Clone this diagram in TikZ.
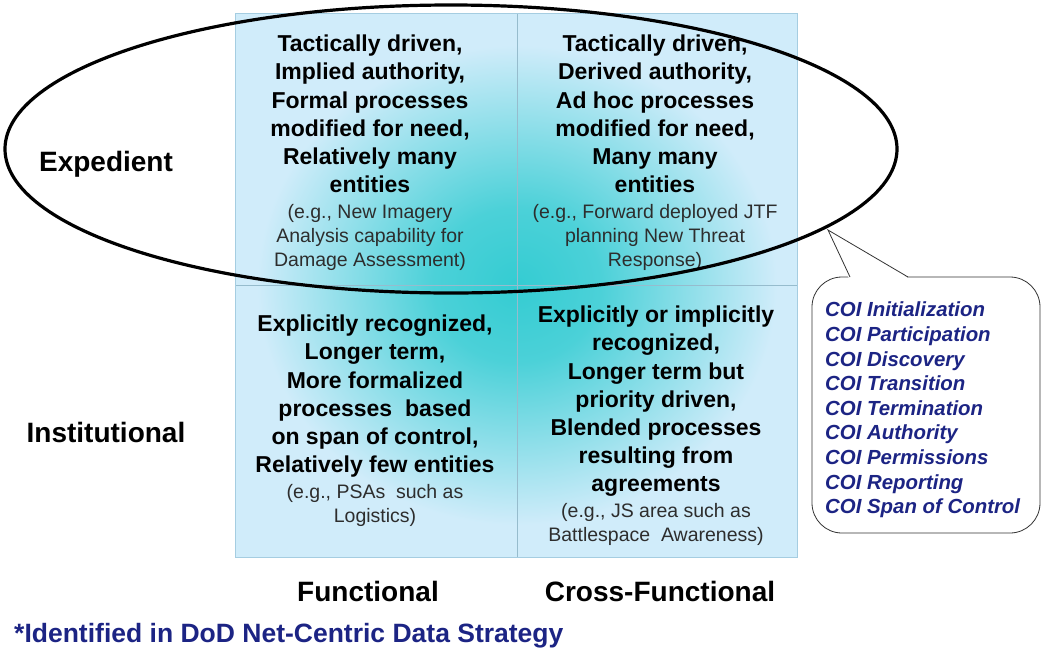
\documentclass[tikz,border=0pt]{standalone}
\usepackage{fontspec}
\setmainfont{Liberation Sans}

\definecolor{quadPale}{RGB}{208,236,250}
\definecolor{quadCyan}{RGB}{52,204,210}
\definecolor{quadLine}{RGB}{150,188,205}
\definecolor{quadEdge}{RGB}{165,205,225}
\definecolor{coiNavy}{RGB}{28,36,132}
\definecolor{noteGray}{RGB}{45,45,45}

\pgfdeclareradialshading{quadglow}{\pgfpointorigin}{color(0bp)=(quadCyan); color(8bp)=(quadCyan!85!quadPale); color(25bp)=(quadPale); color(50bp)=(quadPale)}

\begin{document}
\begin{tikzpicture}[x=1pt, y=-1pt,
  cellhead/.style={font=\fontsize{23}{28.1}\selectfont\bfseries, align=center, inner sep=0pt, anchor=north},
  cellnote/.style={font=\fontsize{19.5}{24}\selectfont, text=noteGray, align=center, inner sep=0pt, anchor=north},
  axislabel/.style={font=\fontsize{28}{34}\selectfont\bfseries, inner sep=0pt, anchor=base},
  coilist/.style={font=\fontsize{20.4}{24.6}\selectfont\bfseries\itshape, text=coiNavy, align=left, inner sep=0pt, anchor=north west},
  callout/.style={draw=black!80, line width=0.8pt, fill=white}]
  \useasboundingbox (0,0) rectangle (1042,654);

  % quadrant background with glow
  \fill[quadPale] (235,13) rectangle (797,557);
  \begin{scope}
    \clip (235,13) rectangle (797,557);
    \shade[shading=quadglow] (517,285) ellipse [x radius=260, y radius=240];
  \end{scope}
  \draw[quadLine, line width=0.6pt] (517,13) -- (517,557) (235,285) -- (797,285);
  \draw[quadEdge, line width=0.8pt] (235,13) rectangle (797,557);

  % quadrant texts
  \node[cellhead] (ulHead) at (370,35) {Tactically driven,\\Implied authority,\\Formal processes\\modified for need,\\Relatively many\\entities};
  \node[cellnote] (ulNote) at (370,204) {(e.g., New Imagery\\Analysis capability for\\Damage Assessment)};
  \node[cellhead] (urHead) at (655,35) {Tactically driven,\\Derived authority,\\Ad hoc processes\\modified for need,\\Many many\\entities};
  \node[cellnote] (urNote) at (655,204) {(e.g., Forward deployed JTF\\planning New Threat\\Response)};
  \node[cellhead] (llHead) at (375,315) {Explicitly recognized,\\Longer term,\\More formalized\\processes\ \ based\\on span of control,\\Relatively few entities};
  \node[cellnote] (llNote) at (375,484) {(e.g., PSAs\ \ such as\\Logistics)};
  \node[cellhead] (lrHead) at (656,306) {Explicitly or implicitly\\recognized,\\Longer term but\\priority driven,\\Blended processes\\resulting from\\agreements};
  \node[cellnote] (lrNote) at (656,503) {(e.g., JS area such as\\Battlespace\ \ Awareness)};

  % expedient ring
  \draw[line width=3.2pt] (451,149) ellipse [x radius=446, y radius=144];

  % axis labels
  \node[axislabel] (expedient) at (106,171.7) {Expedient};
  \node[axislabel] (institutional) at (106,442.7) {Institutional};
  \node[axislabel] (functional) at (368,601) {Functional};
  \node[axislabel] (crossFunctional) at (660,601) {Cross-Functional};
  \node[font=\fontsize{26.5}{30}\selectfont\bfseries, text=coiNavy, inner sep=0pt, anchor=base west] (footnote) at (14,642) {*Identified in DoD Net-Centric Data Strategy};

  % callout
  \coordinate (calloutTip) at (828,230);
  \draw[callout, rounded corners=30pt] (812,277) rectangle (1040,533);
  \fill[white] (calloutTip) -- (849,278.5) -- (909,278.5) -- cycle;
  \draw[black!80, line width=0.8pt] (850,277) -- (calloutTip) -- (908,277);
  \node[coilist] (coiList) at (825,302) {COI Initialization\\COI Participation\\COI Discovery\\COI Transition\\COI Termination\\COI Authority\\COI Permissions\\COI Reporting\\COI Span of Control};
\end{tikzpicture}
\end{document}
